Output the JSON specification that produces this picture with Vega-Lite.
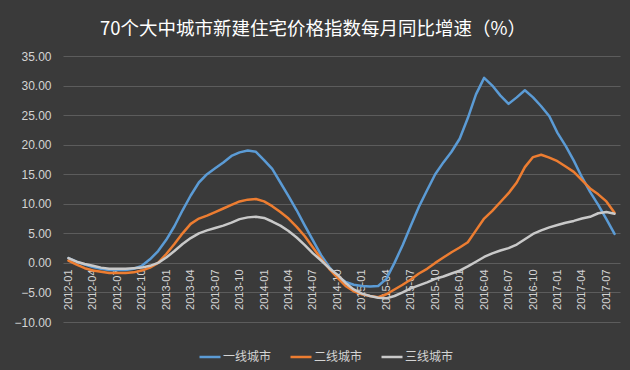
{
  "$schema": "https://vega.github.io/schema/vega-lite/v6.json",
  "autosize": "none",
  "width": 557,
  "height": 266,
  "padding": {"left": 63, "top": 56, "right": 10, "bottom": 48},
  "background": "#3a3a3a",
  "title": {
    "text": "70个大中城市新建住宅价格指数每月同比增速（%）",
    "font": "Noto Sans CJK SC",
    "fontSize": 18.5,
    "fontWeight": "normal",
    "color": "#ffffff",
    "anchor": "start",
    "frame": "group",
    "dx": 37,
    "offset": 12
  },
  "data": {
    "values": [
      {"month": "2012-01", "一线城市": 0.8, "二线城市": 0.4, "三线城市": 0.8},
      {"month": "2012-02", "一线城市": 0.2, "二线城市": -0.3, "三线城市": 0.2},
      {"month": "2012-03", "一线城市": -0.3, "二线城市": -0.9, "三线城市": -0.2},
      {"month": "2012-04", "一线城市": -0.7, "二线城市": -1.3, "三线城市": -0.5},
      {"month": "2012-05", "一线城市": -1.0, "二线城市": -1.5, "三线城市": -0.8},
      {"month": "2012-06", "一线城市": -1.2, "二线城市": -1.7, "三线城市": -1.0},
      {"month": "2012-07", "一线城市": -1.2, "二线城市": -1.7, "三线城市": -1.0},
      {"month": "2012-08", "一线城市": -1.2, "二线城市": -1.7, "三线城市": -1.0},
      {"month": "2012-09", "一线城市": -1.0, "二线城市": -1.6, "三线城市": -0.9},
      {"month": "2012-10", "一线城市": -0.5, "二线城市": -1.3, "三线城市": -0.8},
      {"month": "2012-11", "一线城市": 0.6, "二线城市": -0.8, "三线城市": -0.5},
      {"month": "2012-12", "一线城市": 2.0, "二线城市": 0.0, "三线城市": 0.0},
      {"month": "2013-01", "一线城市": 3.9, "二线城市": 1.5, "三线城市": 0.9},
      {"month": "2013-02", "一线城市": 6.2, "二线城市": 3.2, "三线城市": 2.0},
      {"month": "2013-03", "一线城市": 8.9, "二线城市": 5.0, "三线城市": 3.2},
      {"month": "2013-04", "一线城市": 11.4, "二线城市": 6.6, "三线城市": 4.2},
      {"month": "2013-05", "一线城市": 13.6, "二线城市": 7.5, "三线城市": 5.0},
      {"month": "2013-06", "一线城市": 15.0, "二线城市": 8.0, "三线城市": 5.5},
      {"month": "2013-07", "一线城市": 16.0, "二线城市": 8.6, "三线城市": 5.9},
      {"month": "2013-08", "一线城市": 17.0, "二线城市": 9.2, "三线城市": 6.3},
      {"month": "2013-09", "一线城市": 18.1, "二线城市": 9.8, "三线城市": 6.8},
      {"month": "2013-10", "一线城市": 18.7, "二线城市": 10.4, "三线城市": 7.4},
      {"month": "2013-11", "一线城市": 19.0, "二线城市": 10.7, "三线城市": 7.7},
      {"month": "2013-12", "一线城市": 18.8, "二线城市": 10.8, "三线城市": 7.8},
      {"month": "2014-01", "一线城市": 17.4, "二线城市": 10.4, "三线城市": 7.6},
      {"month": "2014-02", "一线城市": 15.9, "二线城市": 9.6, "三线城市": 7.0},
      {"month": "2014-03", "一线城市": 13.6, "二线城市": 8.6, "三线城市": 6.3},
      {"month": "2014-04", "一线城市": 11.3, "二线城市": 7.5, "三线城市": 5.4},
      {"month": "2014-05", "一线城市": 8.9, "二线城市": 6.1, "三线城市": 4.3},
      {"month": "2014-06", "一线城市": 6.3, "二线城市": 4.5, "三线城市": 3.0},
      {"month": "2014-07", "一线城市": 3.8, "二线城市": 2.6, "三线城市": 1.6},
      {"month": "2014-08", "一线城市": 1.3, "二线城市": 0.7, "三线城市": 0.4},
      {"month": "2014-09", "一线城市": -0.7, "二线城市": -1.0, "三线城市": -0.9},
      {"month": "2014-10", "一线城市": -2.3, "二线城市": -2.5, "三线城市": -2.0},
      {"month": "2014-11", "一线城市": -3.2, "二线城市": -3.9, "三线城市": -3.4},
      {"month": "2014-12", "一线城市": -3.7, "二线城市": -4.8, "三线城市": -4.5},
      {"month": "2015-01", "一线城市": -3.9, "二线城市": -5.3, "三线城市": -5.2},
      {"month": "2015-02", "一线城市": -4.0, "二线城市": -5.6, "三线城市": -5.6},
      {"month": "2015-03", "一线城市": -3.9, "二线城市": -5.8, "三线城市": -5.9},
      {"month": "2015-04", "一线城市": -2.7, "二线城市": -5.3, "三线城市": -6.0},
      {"month": "2015-05", "一线城市": 0.0, "二线城市": -4.5, "三线城市": -5.6},
      {"month": "2015-06", "一线城市": 3.0, "二线城市": -3.7, "三线城市": -5.0},
      {"month": "2015-07", "一线城市": 6.3, "二线城市": -2.8, "三线城市": -4.3},
      {"month": "2015-08", "一线城市": 9.5, "二线城市": -1.8, "三线城市": -3.8},
      {"month": "2015-09", "一线城市": 12.3, "二线城市": -1.0, "三线城市": -3.3},
      {"month": "2015-10", "一线城市": 15.0, "二线城市": 0.0, "三线城市": -2.7},
      {"month": "2015-11", "一线城市": 17.0, "二线城市": 0.9, "三线城市": -2.3},
      {"month": "2015-12", "一线城市": 18.8, "二线城市": 1.8, "三线城市": -1.8},
      {"month": "2016-01", "一线城市": 21.0, "二线城市": 2.6, "三线城市": -1.3},
      {"month": "2016-02", "一线城市": 24.5, "二线城市": 3.5, "三线城市": -0.6},
      {"month": "2016-03", "一线城市": 28.5, "二线城市": 5.5, "三线城市": 0.2},
      {"month": "2016-04", "一线城市": 31.3, "二线城市": 7.5, "三线城市": 1.0},
      {"month": "2016-05", "一线城市": 30.0, "二线城市": 8.8, "三线城市": 1.6},
      {"month": "2016-06", "一线城市": 28.3, "二线城市": 10.3, "三线城市": 2.1},
      {"month": "2016-07", "一线城市": 26.9, "二线城市": 11.8, "三线城市": 2.5},
      {"month": "2016-08", "一线城市": 28.0, "二线城市": 13.6, "三线城市": 3.1},
      {"month": "2016-09", "一线城市": 29.2, "二线城市": 16.2, "三线城市": 4.0},
      {"month": "2016-10", "一线城市": 28.0, "二线城市": 17.9, "三线城市": 4.9},
      {"month": "2016-11", "一线城市": 26.5, "二线城市": 18.3, "三线城市": 5.5},
      {"month": "2016-12", "一线城市": 24.8, "二线城市": 17.8, "三线城市": 6.0},
      {"month": "2017-01", "一线城市": 22.0, "二线城市": 17.2, "三线城市": 6.4},
      {"month": "2017-02", "一线城市": 19.8, "二线城市": 16.3, "三线城市": 6.8},
      {"month": "2017-03", "一线城市": 17.3, "二线城市": 15.4, "三线城市": 7.1},
      {"month": "2017-04", "一线城市": 14.5, "二线城市": 14.0, "三线城市": 7.5},
      {"month": "2017-05", "一线城市": 12.0, "二线城市": 12.6, "三线城市": 7.8},
      {"month": "2017-06", "一线城市": 9.8, "二线城市": 11.6, "三线城市": 8.4},
      {"month": "2017-07", "一线城市": 7.4, "二线城市": 10.4, "三线城市": 8.6},
      {"month": "2017-08", "一线城市": 4.9, "二线城市": 8.5, "三线城市": 8.3}
    ]
  },
  "transform": [
    {"fold": ["一线城市", "二线城市", "三线城市"], "as": ["city", "value"]}
  ],
  "mark": {"type": "line", "strokeWidth": 2.5, "strokeCap": "round", "strokeJoin": "round"},
  "encoding": {
    "x": {
      "field": "month",
      "type": "ordinal",
      "scale": {"type": "point", "padding": 0.67},
      "axis": {
        "title": null,
        "labelAngle": -90,
        "labelExpr": "indexof(['01','04','07','10'], slice(datum.label, 5)) >= 0 ? datum.label : ''",
        "labelOverlap": false,
        "labelColor": "#d4d4d4",
        "labelFont": "Liberation Sans",
        "labelFontSize": 11,
        "labelPadding": 6,
        "ticks": false,
        "domain": false,
        "grid": false,
        "offset": -59
      }
    },
    "y": {
      "field": "value",
      "type": "quantitative",
      "scale": {"domain": [-10, 35], "nice": false, "zero": false},
      "axis": {
        "title": null,
        "values": [-10, -5, 0, 5, 10, 15, 20, 25, 30, 35],
        "format": ".2f",
        "labelColor": "#d4d4d4",
        "labelFont": "Liberation Sans",
        "labelFontSize": 12,
        "labelPadding": 12,
        "ticks": false,
        "domain": false,
        "grid": true,
        "gridColor": "#5c5c5c",
        "gridWidth": 1
      }
    },
    "color": {
      "field": "city",
      "type": "nominal",
      "scale": {
        "domain": ["一线城市", "二线城市", "三线城市"],
        "range": ["#5b9bd5", "#ed7d31", "#c9c9c9"]
      },
      "legend": {
        "title": null,
        "orient": "none",
        "legendX": 135,
        "legendY": 289,
        "direction": "horizontal",
        "symbolType": "stroke",
        "symbolSize": 441,
        "symbolStrokeWidth": 2.5,
        "labelOffset": 1,
        "labelColor": "#d4d4d4",
        "labelFont": "Noto Sans CJK SC",
        "labelFontSize": 12,
        "columnPadding": 13
      }
    }
  },
  "config": {
    "view": {"stroke": null}
  }
}
